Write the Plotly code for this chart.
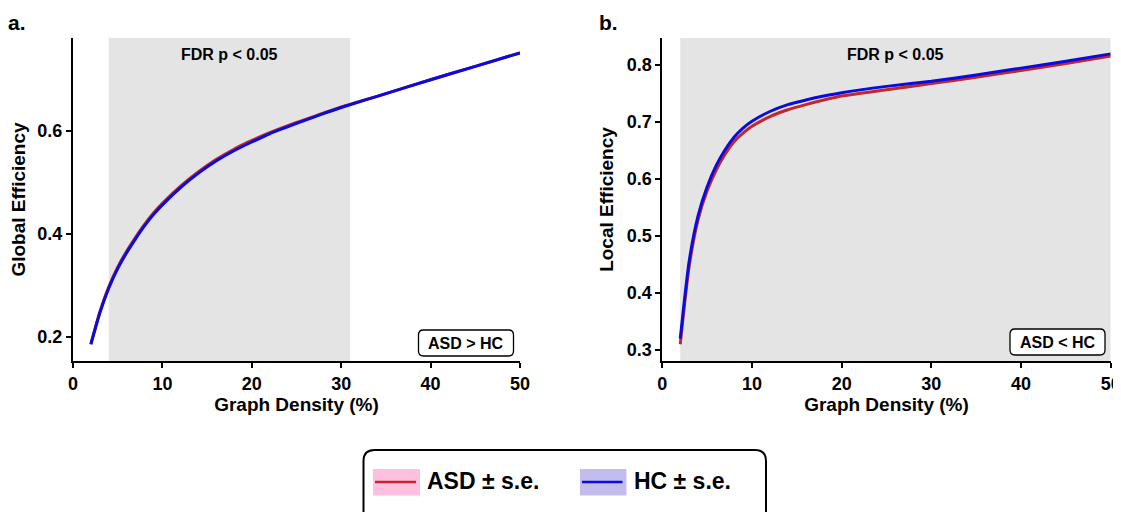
import plotly.graph_objects as go

# ---------------- data ----------------
density_a = [2, 3, 4, 5, 6, 7, 8, 9, 10, 12, 14, 16, 18, 20, 22, 25, 28, 30, 35, 40, 45, 50]
ge_hc = [0.185, 0.246, 0.294, 0.332, 0.363, 0.390, 0.415, 0.437, 0.456, 0.489, 0.517, 0.541,
         0.561, 0.578, 0.594, 0.614, 0.633, 0.645, 0.672, 0.699, 0.725, 0.751]
ge_asd = [0.186, 0.248, 0.297, 0.335, 0.366, 0.393, 0.418, 0.440, 0.459, 0.492, 0.520, 0.544,
          0.564, 0.581, 0.596, 0.616, 0.634, 0.646, 0.672, 0.699, 0.725, 0.751]

density_b = [2, 3, 4, 5, 6, 7, 8, 9, 10, 12, 14, 16, 18, 20, 25, 30, 35, 40, 45, 50]
le_hc = [0.320, 0.456, 0.536, 0.586, 0.623, 0.651, 0.673, 0.689, 0.701, 0.718, 0.730, 0.738,
         0.745, 0.751, 0.762, 0.771, 0.782, 0.794, 0.806, 0.819]
le_asd = [0.310, 0.447, 0.529, 0.579, 0.615, 0.643, 0.665, 0.680, 0.692, 0.709, 0.721, 0.730,
          0.738, 0.745, 0.756, 0.767, 0.778, 0.790, 0.802, 0.815]

sig_a = [4, 31]   # FDR-significant density range, panel a
sig_b = [2, 50]   # FDR-significant density range, panel b

x_ticks = [0, 10, 20, 30, 40, 50]
ya_ticks = [0.2, 0.4, 0.6]
yb_ticks = [0.3, 0.4, 0.5, 0.6, 0.7, 0.8]

series_names = ["ASD \u00b1 s.e.", "HC \u00b1 s.e."]
label_a = "ASD > HC"
label_b = "ASD < HC"
sig_label = "FDR p < 0.05"

# ---------------- styling ----------------
RED = "#c1272d"
BLUE = "#0b0bdc"
PINK = "#ffbfdf"
LAV = "#c3bdee"
SHADE = "#e4e4e4"
FONT = "Liberation Sans, Arial, sans-serif"

OFF = 8  # page body margin of the html page
W, H = 1121, 512 - OFF
L, R, T = 65, 18, 30
B = H - T - 323
PW, PH = W - L - R, H - T - B


def xp(px):
    """reference-screenshot pixel x -> paper x"""
    return (px - OFF - L) / PW


def yp(py):
    """reference-screenshot pixel y -> paper y"""
    return (H - B - (py - OFF)) / PH


def rounded_rect(x0, y0, x1, y1, r):
    rx = r / PW
    ry = r / PH
    X0, X1 = xp(x0), xp(x1)
    Y0, Y1 = yp(y0), yp(y1)  # Y0 top, Y1 bottom
    return (f"M{X0+rx},{Y0} L{X1-rx},{Y0} Q{X1},{Y0} {X1},{Y0-ry} "
            f"L{X1},{Y1+ry} Q{X1},{Y1} {X1-rx},{Y1} L{X0+rx},{Y1} "
            f"Q{X0},{Y1} {X0},{Y1+ry} L{X0},{Y0-ry} Q{X0},{Y0} {X0+rx},{Y0} Z")


fig = go.Figure()


def line(x, y, name, color, xa, ya):
    return go.Scatter(x=x, y=y, name=name, xaxis=xa, yaxis=ya, mode="lines", showlegend=False,
                      line=dict(width=3, color=color, shape="spline", smoothing=0.6))


fig.add_trace(line(density_a, ge_asd, series_names[0], RED, "x", "y"))
fig.add_trace(line(density_a, ge_hc, series_names[1], BLUE, "x", "y"))
fig.add_trace(line(density_b, le_asd, series_names[0], RED, "x2", "y2"))
fig.add_trace(line(density_b, le_hc, series_names[1], BLUE, "x2", "y2"))

axis_common = dict(showline=True, linewidth=2, linecolor="black", ticks="outside", ticklen=5,
                   tickwidth=2, tickcolor="black", showgrid=False, zeroline=False,
                   tickfont=dict(family=FONT, size=18, color="black", weight="bold"),
                   automargin=False, ticklabeloverflow="allow")
title_font = dict(family=FONT, size=19, color="black", weight="bold")

dom_a = [0, xp(520)]
dom_b = [xp(662.3), xp(1110.7)]

fig.update_layout(
    width=W, height=H,
    margin=dict(l=L, r=R, t=T, b=B, pad=0),
    paper_bgcolor="white", plot_bgcolor="rgba(0,0,0,0)",
    showlegend=False,
    xaxis=dict(domain=dom_a, range=[0, 50], tickvals=x_ticks, anchor="y",
               title=dict(text="Graph Density (%)", font=title_font, standoff=5), **axis_common),
    yaxis=dict(domain=[0, 1], range=[0.1527, 0.780], tickvals=ya_ticks, tickformat=".1f", anchor="x",
               title=dict(text="Global Efficiency", font=title_font, standoff=10), **axis_common),
    xaxis2=dict(domain=dom_b, range=[0, 50], tickvals=x_ticks, anchor="y2",
                title=dict(text="Graph Density (%)", font=title_font, standoff=5), **axis_common),
    yaxis2=dict(domain=[0, 1], range=[0.2807, 0.8468], tickvals=yb_ticks, tickformat=".1f", anchor="x2",
                title=dict(text="Local Efficiency", font=title_font, standoff=8), **axis_common),
)

shapes = []
for xr, yr, rng in (("x", "y domain", sig_a), ("x2", "y2 domain", sig_b)):
    shapes.append(dict(type="rect", xref=xr, yref=yr, x0=rng[0], x1=rng[1], y0=0, y1=1,
                       fillcolor=SHADE, line=dict(width=0), layer="below"))
shapes.append(dict(type="path", xref="paper", yref="paper", path=rounded_rect(418.5, 330, 513.5, 356, 5),
                   line=dict(color="black", width=1.3), fillcolor="white", layer="above"))
shapes.append(dict(type="path", xref="paper", yref="paper", path=rounded_rect(1010, 329, 1105, 355, 5),
                   line=dict(color="black", width=1.3), fillcolor="white", layer="above"))
shapes.append(dict(type="path", xref="paper", yref="paper", path=rounded_rect(363.5, 450, 766, 530, 11),
                   line=dict(color="black", width=2), fillcolor="rgba(0,0,0,0)", layer="above"))
for (x0, x1), fill, col in (((373, 420), PINK, RED), ((580, 626.5), LAV, BLUE)):
    shapes.append(dict(type="rect", xref="paper", yref="paper", x0=xp(x0), x1=xp(x1),
                       y0=yp(495.5), y1=yp(469), fillcolor=fill, line=dict(width=0)))
    shapes.append(dict(type="line", xref="paper", yref="paper", x0=xp(x0 + 2), x1=xp(x1 - 4),
                       y0=yp(482), y1=yp(482), line=dict(color=col, width=2.5)))
fig.update_layout(shapes=shapes)

ann = []
small = dict(family=FONT, size=16, color="black", weight="bold")
ann.append(dict(text=sig_label, xref="x", yref="paper", x=(sig_a[0] + sig_a[1]) / 2, y=yp(54),
                showarrow=False, font=small, xanchor="center", yanchor="middle"))
ann.append(dict(text=sig_label, xref="x2", yref="paper", x=(sig_b[0] + sig_b[1]) / 2, y=yp(54),
                showarrow=False, font=small, xanchor="center", yanchor="middle"))
ann.append(dict(text=label_a, xref="paper", yref="paper", x=xp(466), y=yp(343),
                showarrow=False, font=small, xanchor="center", yanchor="middle"))
ann.append(dict(text=label_b, xref="paper", yref="paper", x=xp(1057.5), y=yp(342),
                showarrow=False, font=small, xanchor="center", yanchor="middle"))
panel_font = dict(family=FONT, size=21, color="black", weight="bold")
ann.append(dict(text="a.", xref="paper", yref="paper", x=xp(6), y=yp(8.5),
                showarrow=False, font=panel_font, xanchor="left", yanchor="top"))
ann.append(dict(text="b.", xref="paper", yref="paper", x=xp(597), y=yp(8.5),
                showarrow=False, font=panel_font, xanchor="left", yanchor="top"))
leg_font = dict(family=FONT, size=23, color="black", weight="bold")
ann.append(dict(text=series_names[0], xref="paper", yref="paper", x=xp(425), y=yp(481),
                showarrow=False, font=leg_font, xanchor="left", yanchor="middle"))
ann.append(dict(text=series_names[1], xref="paper", yref="paper", x=xp(632), y=yp(481),
                showarrow=False, font=leg_font, xanchor="left", yanchor="middle"))
fig.update_layout(annotations=ann)

fig.write_html("out.html")
